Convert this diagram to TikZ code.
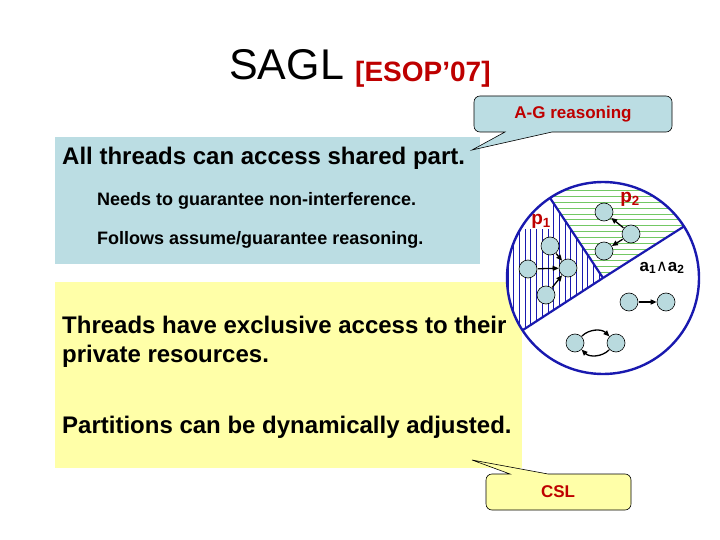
\documentclass[tikz,border=0pt]{standalone}
\usepackage{fontspec}
\setmainfont{Liberation Sans}
\newfontfamily\dejavu{DejaVu Sans}
\usetikzlibrary{arrows.meta}
\definecolor{boxblue}{RGB}{187,221,227}
\definecolor{boxyellow}{RGB}{255,255,168}
\definecolor{darkred}{RGB}{190,0,0}
\definecolor{ringblue}{RGB}{25,25,175}
\definecolor{hatchgreen}{RGB}{115,200,100}
\definecolor{resfill}{RGB}{185,218,222}
\tikzset{
  res/.style={circle, draw=black, fill=resfill, minimum size=18pt, inner sep=0pt, line width=0.6pt},
  arr/.style={-{Triangle[length=6pt,width=5pt]}, line width=1.3pt, shorten <=0.5pt},
  txt/.style={anchor=base west, inner sep=0pt},
  call/.style={draw=black, line width=0.6pt},
}
\begin{document}
\begin{tikzpicture}[x=1pt,y=-1pt]
\useasboundingbox (0,0) rectangle (720,540);
\fill[white] (0,0) rectangle (720,540);

% title
\node[txt] (title) at (229,80) {\fontsize{43}{46}\selectfont SAGL};
\node[txt, text=darkred] (esop) at (355,82) {\fontsize{28}{32}\selectfont\bfseries [ESOP’07]};

% boxes
\fill[boxyellow] (55,282) rectangle (522,468);
\fill[boxblue] (55,137) rectangle (480,264);

\node[txt] (t1) at (62,165) {\fontsize{24}{28}\selectfont\bfseries All threads can access shared part.};
\node[txt] (t2) at (97,206) {\fontsize{18}{22}\selectfont\bfseries Needs to guarantee non-interference.};
\node[txt] (t3) at (97,244) {\fontsize{18}{22}\selectfont\bfseries Follows assume/guarantee reasoning.};
\node[txt] (t4) at (62,333) {\fontsize{24}{28}\selectfont\bfseries Threads have exclusive access to their};
\node[txt] (t5) at (62,362) {\fontsize{24}{28}\selectfont\bfseries private resources.};
\node[txt] (t6) at (62,433) {\fontsize{24}{28}\selectfont\bfseries Partitions can be dynamically adjusted.};

% A-G callout
\coordinate (agtip) at (472,150);
\draw[call, fill=boxblue] (552,132) -- (666,132) arc[start angle=-90,end angle=0,radius=6pt]
  -- (672,102) arc[start angle=0,end angle=90,radius=6pt]
  -- (480,96) arc[start angle=90,end angle=180,radius=6pt]
  -- (474,126) arc[start angle=180,end angle=270,radius=6pt]
  -- (505,132) -- (agtip) -- cycle;
\node[text=darkred, inner sep=0pt] (ag) at (573,114) {\fontsize{17}{20}\selectfont\bfseries A-G reasoning};

% CSL callout
\coordinate (csltip) at (472,460);
\draw[call, fill=boxyellow] (548,474) -- (625,474) arc[start angle=90,end angle=0,radius=6pt]
  -- (631,504) arc[start angle=0,end angle=-90,radius=6pt]
  -- (492,510) arc[start angle=-90,end angle=-180,radius=6pt]
  -- (486,480) arc[start angle=180,end angle=90,radius=6pt]
  -- (510,474) -- (csltip) -- cycle;
\node[text=darkred, inner sep=0pt] (csl) at (558,492) {\fontsize{17}{20}\selectfont\bfseries CSL};

% circle
\coordinate (C) at (603,278);
\fill[white] (C) circle[radius=96pt];
\begin{scope}
  \clip (C) -- ++(123.5:96pt) arc[start angle=123.5,end angle=213,radius=96pt] -- cycle;
  \foreach \x in {0,...,18} \draw[ringblue, line width=0.7pt] (508+\x*5.7,170) -- (508+\x*5.7,390);
  \fill[white] (505,190) rectangle (552,229);
\end{scope}
\begin{scope}
  \clip (C) -- ++(32.5:96pt) arc[start angle=32.5,end angle=123.5,radius=96pt] -- cycle;
  \foreach \y in {0,...,16} \draw[hatchgreen, line width=1pt] (500,191+\y*5.8) -- (710,191+\y*5.8);
\end{scope}
\draw[ringblue, line width=2.2pt] (C) -- ++(123.5:96pt);
\draw[ringblue, line width=2.2pt] (C) -- ++(32.5:96pt);
\draw[ringblue, line width=2.2pt] (C) -- ++(213:96pt);
\draw[ringblue, line width=2.4pt] (C) circle[radius=96pt];

% labels
\node[text=darkred, inner sep=0pt] (p1) at (541,221) {\fontsize{19}{22}\selectfont\bfseries p\textsubscript{1}};
\node[text=darkred, inner sep=0pt] (p2) at (630,199) {\fontsize{19}{22}\selectfont\bfseries p\textsubscript{2}};
\node[inner sep=0pt] (a12) at (662,268) {\fontsize{17}{20}\selectfont\bfseries a\textsubscript{1}{\dejavu\mdseries\fontsize{16}{18}\selectfont ∧}a\textsubscript{2}};

% resources
\node[res] (A) at (604,212) {};
\node[res] (B) at (631,234) {};
\node[res] (Cn) at (604,251) {};
\node[res] (D) at (550,246) {};
\node[res] (E) at (528,269) {};
\node[res] (F) at (568,268) {};
\node[res] (G) at (546,295) {};
\node[res] (H) at (629,302) {};
\node[res] (I) at (666,302) {};
\node[res] (J) at (575,343) {};
\node[res] (K) at (616,343) {};

\draw[arr] (B) -- (A);
\draw[arr] (B) -- (Cn);
\draw[arr] (D) -- (F);
\draw[arr] (E) -- (F);
\draw[arr] (G) -- (F);
\draw[arr] (H) -- (I);
\draw[arr] (J.north east) to[bend left=45] (K.north west);
\draw[arr] (K.south west) to[bend left=45] (J.south east);
\end{tikzpicture}
\end{document}
